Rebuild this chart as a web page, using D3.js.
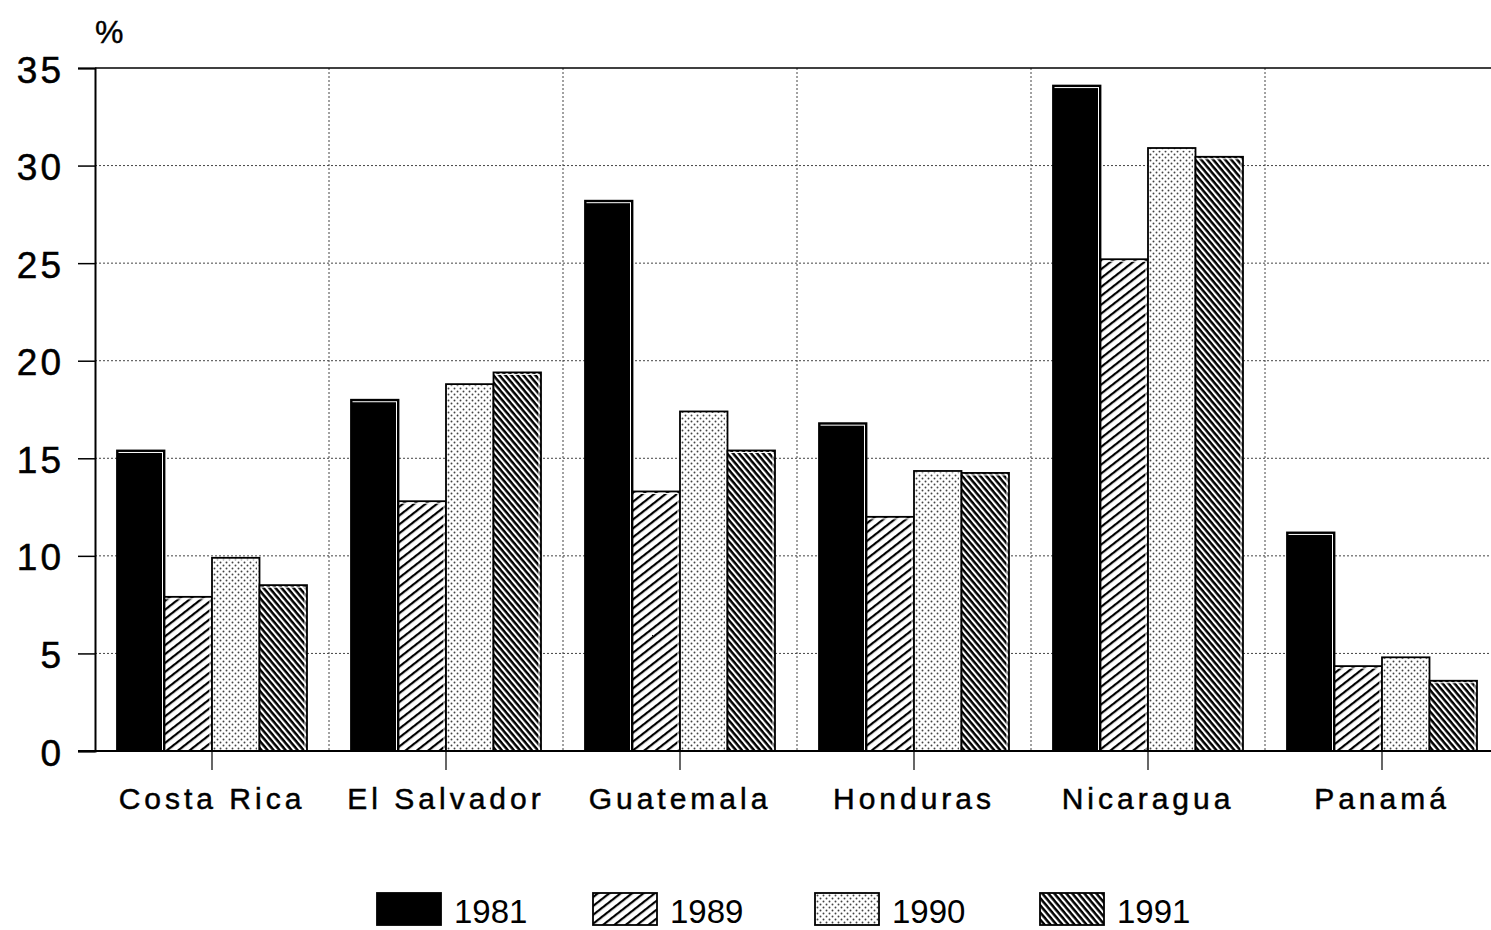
<!DOCTYPE html>
<html><head><meta charset="utf-8">
<script src="https://cdn.jsdelivr.net/npm/d3@7"></script>
<style>body{margin:0;background:#fff}svg{display:block}text{font-family:"Liberation Sans",Arial,Helvetica,sans-serif;fill:#000}</style>
</head><body>
<svg id="c" width="1491" height="930"></svg>
<script>
const categories = ["Costa Rica","El Salvador","Guatemala","Honduras","Nicaragua","Panamá"];
const years = ["1981","1989","1990","1991"];
const v1981 = [15.4, 18.0, 28.2, 16.8, 34.1, 11.2];
const v1989 = [7.9, 12.8, 13.3, 12.0, 25.2, 4.35];
const v1990 = [9.9, 18.8, 17.4, 14.35, 30.9, 4.8];
const v1991 = [8.5, 19.4, 15.4, 14.25, 30.45, 3.6];
const yTicks = [0,5,10,15,20,25,30,35];
const series = [v1981, v1989, v1990, v1991];

(function(){
const svg = d3.select("#c");
const defs = svg.append("defs");
const p89 = defs.append("pattern").attr("id","p1989").attr("patternUnits","userSpaceOnUse")
  .attr("width",8).attr("height",7).attr("patternTransform","rotate(-38)");
p89.append("rect").attr("width",8).attr("height",7).attr("fill","#fff");
p89.append("rect").attr("y",0).attr("width",8).attr("height",2.2).attr("fill","#000");
const p91 = defs.append("pattern").attr("id","p1991").attr("patternUnits","userSpaceOnUse")
  .attr("width",8).attr("height",4.6).attr("patternTransform","rotate(50)");
p91.append("rect").attr("width",8).attr("height",4.6).attr("fill","#fff");
p91.append("rect").attr("y",0).attr("width",8).attr("height",2.5).attr("fill","#000");
const p90 = defs.append("pattern").attr("id","p1990").attr("patternUnits","userSpaceOnUse")
  .attr("width",6).attr("height",6);
p90.append("rect").attr("width",6).attr("height",6).attr("fill","#fff");
p90.append("circle").attr("cx",1.5).attr("cy",1.5).attr("r",0.95).attr("fill","#444");
p90.append("circle").attr("cx",4.5).attr("cy",4.5).attr("r",0.95).attr("fill","#444");
const fills = ["#000","url(#p1989)","url(#p1990)","url(#p1991)"];

const mLeft = 95, mTop = 68, mBottom = 751, groupW = 234;
const x = d3.scaleBand().domain(categories).range([mLeft, mLeft + groupW*categories.length]).padding(0);
const xi = d3.scaleBand().domain(years).range([22, 212]).padding(0);
const y = d3.scaleLinear().domain([0,35]).range([mBottom, mTop]);

const g = svg.append("g");
g.selectAll(".hg").data(yTicks.filter(t=>t>0 && t<35)).join("line")
  .attr("x1",mLeft).attr("x2",1491).attr("y1",d=>y(d)).attr("y2",d=>y(d))
  .attr("stroke","#444").attr("stroke-width",1).attr("stroke-dasharray","2,2");
g.selectAll(".vg").data(categories.slice(1)).join("line")
  .attr("x1",d=>x(d)).attr("x2",d=>x(d)).attr("y1",y(35)).attr("y2",y(0))
  .attr("stroke","#444").attr("stroke-width",1).attr("stroke-dasharray","2,2");
g.append("line").attr("x1",mLeft).attr("x2",1491).attr("y1",y(35)).attr("y2",y(35)).attr("stroke","#000").attr("stroke-width",1.5);

categories.forEach((c,ci)=>{
  years.forEach((yr,si)=>{
    const v = series[si][ci];
    const bx = x(c)+xi(yr), bw = xi.bandwidth();
    svg.append("rect").attr("x",bx).attr("y",y(v)).attr("width",bw).attr("height",y(0)-y(v))
      .attr("fill",fills[si]).attr("stroke","#000").attr("stroke-width",1.8);
    svg.append("line").attr("x1",bx+1.5).attr("x2",bx+bw-1.5).attr("y1",y(v)+2).attr("y2",y(v)+2)
      .attr("stroke","#fff").attr("stroke-width",1);
    svg.append("line").attr("x1",bx+bw-2).attr("x2",bx+bw-2).attr("y1",y(v)+2).attr("y2",y(0)-1)
      .attr("stroke","#fff").attr("stroke-width",1);
  });
});

const ya = svg.append("g").attr("transform",`translate(${mLeft},0)`)
  .call(d3.axisLeft(y).tickValues(yTicks).tickSize(17).tickPadding(14).tickFormat(d3.format("d")));
ya.select(".domain").attr("stroke","#000").attr("stroke-width",2);
ya.selectAll(".tick line").attr("stroke","#000").attr("stroke-width",1.5);
ya.selectAll("text").attr("font-size",37).attr("letter-spacing","3px").attr("dy","0.38em")
  .attr("stroke","#000").attr("stroke-width",0.5).attr("font-family","'Liberation Sans',Arial,sans-serif");

const xa = svg.append("g").attr("transform",`translate(0,${mBottom})`)
  .call(d3.axisBottom(x).tickSize(19).tickPadding(18).tickSizeOuter(0));
xa.select(".domain").attr("stroke","#000").attr("stroke-width",2).attr("d",`M${mLeft-17},0H1491`);
xa.selectAll(".tick line").attr("stroke","#000").attr("stroke-width",1.2);
xa.selectAll("text").attr("font-size",30).attr("letter-spacing","4px").attr("dy","0.71em")
  .attr("stroke","#000").attr("stroke-width",0.5).attr("font-family","'Liberation Sans',Arial,sans-serif");

svg.append("text").attr("x",95).attr("y",43).attr("font-size",32).attr("stroke","#000").attr("stroke-width",0.4).text("%");

const legX = [377, 593, 815, 1040];
const lg = svg.append("g");
years.forEach((yr,i)=>{
  lg.append("rect").attr("x",legX[i]).attr("y",893).attr("width",64).attr("height",32)
    .attr("fill",fills[i]).attr("stroke","#000").attr("stroke-width",1.8);
  lg.append("text").attr("x",legX[i]+77).attr("y",923).attr("font-size",33).text(yr);
});
})();
</script>
</body></html>
